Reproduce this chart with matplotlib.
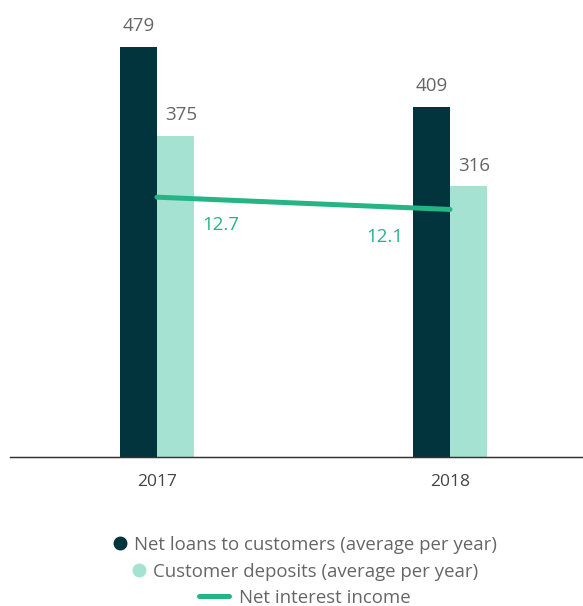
import numpy as np
import matplotlib
matplotlib.use("Agg")
import matplotlib.pyplot as plt
from matplotlib.lines import Line2D

plt.rcParams['font.family'] = ['Open Sans', 'DejaVu Sans']

years = ['2017', '2018']
net_loans = [479, 409]
deposits = [375, 316]
net_interest = [12.7, 12.1]

dark = '#02343d'
light = '#a5e2d2'
green = '#25b585'
grey = '#666666'

fig = plt.figure(figsize=(5.83, 6.06), dpi=100)
ax = fig.add_axes([10 / 583, 149 / 606, 573 / 583, 437 / 606])
ax2 = ax.twinx()

x = np.arange(len(years))
w = 0.126
b1 = ax.bar(x - w / 2, net_loans, w, color=dark)
b2 = ax.bar(x + w / 2, deposits, w, color=light)
ax2.plot(x, net_interest, color=green, lw=3.6, solid_capstyle='round')

for r, v in zip(b1, net_loans):
    ax.annotate(str(v), (r.get_x() + r.get_width() / 2, v), xytext=(0, 15),
                textcoords='offset points', ha='center', va='center', fontsize=13.5, color=grey)
for r, v in zip(b2, deposits):
    ax.annotate(str(v), (r.get_x() + r.get_width() / 2, v), xytext=(4, 15),
                textcoords='offset points', ha='center', va='center', fontsize=13.5, color=grey)

offsets = [(46, -20), (-47, -20)]
for xi, v, off in zip(x, net_interest, offsets):
    ax2.annotate(f"{v}", (xi, v), xytext=off, textcoords='offset points',
                 ha='center', va='center', fontsize=13.5, color=green)

ax.set_xlim(-0.5017, 1.454)
ax.set_ylim(0, 510.2)
ax2.set_ylim(0, 21.36)

ax.set_xticks(x)
ax.set_xticklabels(years, fontsize=12.5, color='#444444')
ax.tick_params(axis='x', length=0, pad=12)
ax.set_yticks([])
ax2.set_yticks([])
for a in (ax, ax2):
    for s in ['top', 'left', 'right']:
        a.spines[s].set_visible(False)
    a.spines['bottom'].set_color('#333333')
    a.spines['bottom'].set_linewidth(0.9)

entries = [
    (Line2D([], [], marker='o', ls='', color=dark, markersize=9), 'Net loans to customers (average per year)', 545, 0.7, 0.4),
    (Line2D([], [], marker='o', ls='', color=light, markersize=9), 'Customer deposits (average per year)', 572, 0.7, 0.4),
    (Line2D([], [], color=green, lw=3.6, solid_capstyle='round'), 'Net interest income', 598, 1.6, 0.55),
]
for h, lab, yy, hl, tp in entries:
    fig.legend([h], [lab], loc='center', bbox_to_anchor=(305 / 583, 1 - yy / 606),
               frameon=False, fontsize=13.4, labelcolor=grey, handlelength=hl,
               handletextpad=tp, borderpad=0, borderaxespad=0)

fig.savefig('out.png', dpi=100)
